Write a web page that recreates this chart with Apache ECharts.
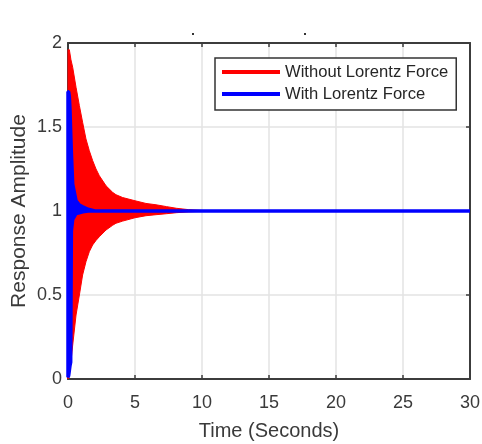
<!DOCTYPE html>
<html>
<head>
<meta charset="utf-8">
<script src="https://cdn.jsdelivr.net/npm/echarts@6/dist/echarts.min.js"></script>
<style>
  html, body { margin: 0; padding: 0; background: #ffffff; }
  #chart { width: 482px; height: 444px; }
</style>
</head>
<body>
<div id="chart"></div>
<script>
// ---- Data (envelopes of the dense oscillations) ----
var seriesNames = ['Without Lorentz Force', 'With Lorentz Force'];
var xTicks = [0, 5, 10, 15, 20, 25, 30];
var yTicks = [0, 0.5, 1, 1.5, 2];

// Without Lorentz Force (red): time samples, upper and lower envelope
var redT     = [0, 0.1, 0.22, 0.35, 0.6, 0.85, 1.09, 1.34, 1.59, 1.84, 2.09, 2.34, 2.84, 3.33, 3.58, 4.08, 5, 5.82, 6.57, 7.36, 8.1, 9, 10, 30];
var redUpper = [1.96, 1.96, 1.90, 1.855, 1.736, 1.627, 1.528, 1.429, 1.359, 1.30, 1.25, 1.21, 1.15, 1.111, 1.097, 1.08, 1.061, 1.045, 1.037, 1.026, 1.016, 1.008, 1.003, 1.0];
var redLower = [0.0, 0.03, 0.103, 0.202, 0.381, 0.5, 0.619, 0.698, 0.758, 0.798, 0.825, 0.847, 0.887, 0.915, 0.927, 0.94, 0.96, 0.972, 0.978, 0.984, 0.99, 0.995, 0.998, 1.0];

// With Lorentz Force (blue): time samples, upper and lower envelope
var blueT     = [0, 0.05, 0.1, 0.15, 0.2, 0.25, 0.35, 0.6, 0.85, 1.1, 1.5, 2, 30];
var blueUpper = [1.71, 1.71, 1.68, 1.6, 1.47, 1.35, 1.16, 1.06, 1.035, 1.025, 1.01, 1.0, 1.0];
var blueLower = [0.01, 0.02, 0.05, 0.08, 0.1, 0.88, 0.95, 0.985, 0.99, 0.995, 1.0, 1.0, 1.0];

var RED = '#ff0000', BLUE = '#0000ff', AX = '#3c3c3c', GRID = '#e3e3e3', TXT = '#3a3a3a';

// Band = polygon through upper envelope (forward) and lower envelope (backward),
// positioned with the chart's own coordinate system (api.coord).
function bandRenderer(t, up, lo, color, strokeW) {
  return function (params, api) {
    if (params.dataIndex !== 0) return null;
    var pts = [];
    for (var i = 0; i < t.length; i++) pts.push(api.coord([t[i], up[i]]));
    for (var j = t.length - 1; j >= 0; j--) pts.push(api.coord([t[j], lo[j]]));
    return {
      type: 'polygon',
      shape: { points: pts },
      style: { fill: color, stroke: color, lineWidth: strokeW, lineJoin: 'bevel' }
    };
  };
}

var chart = echarts.init(document.getElementById('chart'), null, { renderer: 'canvas' });

var axisCommon = {
  type: 'value',
  axisLine: { show: true, onZero: false, lineStyle: { color: AX, width: 2 } },
  axisTick: { show: true, inside: true, length: 4, lineStyle: { color: AX, width: 1.5 } }
};

var option = {
  backgroundColor: '#ffffff',
  animation: false,
  grid: { left: 68, right: 12, top: 43, bottom: 65, containLabel: false, outerBoundsMode: 'none' },
  legend: {
    data: seriesNames,
    orient: 'vertical',
    left: 215,
    top: 58,
    icon: 'rect',
    itemWidth: 58,
    itemHeight: 4,
    itemGap: 4,
    padding: [5, 8, 7, 7],
    backgroundColor: '#ffffff',
    borderColor: '#333333',
    borderWidth: 1.5,
    borderRadius: 0,
    textStyle: { fontFamily: 'Liberation Sans, Arial, sans-serif', fontSize: 16.6, color: '#262626', lineHeight: 18 }
  },
  xAxis: [
    Object.assign({}, axisCommon, {
      position: 'bottom', min: xTicks[0], max: xTicks[xTicks.length - 1], interval: 5,
      axisLabel: { show: true, margin: 15, fontSize: 18, fontFamily: 'Liberation Sans, Arial, sans-serif', color: TXT },
      splitLine: { show: true, lineStyle: { color: GRID, width: 1.5 } },
      name: 'Time (Seconds)', nameLocation: 'middle', nameGap: 42,
      nameTextStyle: { fontFamily: 'Liberation Sans, Arial, sans-serif', fontSize: 20, color: TXT }
    }),
    Object.assign({}, axisCommon, {
      position: 'top', min: xTicks[0], max: xTicks[xTicks.length - 1], interval: 5,
      axisLabel: { show: false }, splitLine: { show: false }
    })
  ],
  yAxis: [
    Object.assign({}, axisCommon, {
      position: 'left', min: yTicks[0], max: yTicks[yTicks.length - 1], interval: 0.5,
      axisLabel: { show: true, margin: 6, fontSize: 18, fontFamily: 'Liberation Sans, Arial, sans-serif', color: TXT },
      splitLine: { show: true, lineStyle: { color: GRID, width: 1.5 } },
      name: 'Response Amplitude', nameLocation: 'middle', nameGap: 38, nameRotate: 90,
      nameMoveOverlap: false,
      nameTextStyle: { fontFamily: 'Liberation Sans, Arial, sans-serif', fontSize: 21, color: TXT }
    }),
    Object.assign({}, axisCommon, {
      position: 'right', min: yTicks[0], max: yTicks[yTicks.length - 1], interval: 0.5,
      axisLabel: { show: false }, splitLine: { show: false }
    })
  ],
  series: [
    {
      name: seriesNames[0], type: 'custom', coordinateSystem: 'cartesian2d',
      xAxisIndex: 0, yAxisIndex: 0,
      data: redT.map(function (x, i) { return [x, redUpper[i]]; }),
      encode: { x: 0, y: 1 },
      itemStyle: { color: RED },
      renderItem: bandRenderer(redT, redUpper, redLower, RED, 1),
      z: 2
    },
    {
      name: seriesNames[1], type: 'custom', coordinateSystem: 'cartesian2d',
      xAxisIndex: 0, yAxisIndex: 0,
      data: blueT.map(function (x, i) { return [x, blueUpper[i]]; }),
      encode: { x: 0, y: 1 },
      itemStyle: { color: BLUE },
      renderItem: bandRenderer(blueT, blueUpper, blueLower, BLUE, 3.5),
      z: 3
    }
  ],
  graphic: [
    { type: 'rect', left: 192, top: 33, shape: { width: 2, height: 2 }, style: { fill: '#333' } },
    { type: 'rect', left: 304, top: 33, shape: { width: 2, height: 2 }, style: { fill: '#333' } }
  ]
};

chart.setOption(option);
</script>
</body>
</html>
